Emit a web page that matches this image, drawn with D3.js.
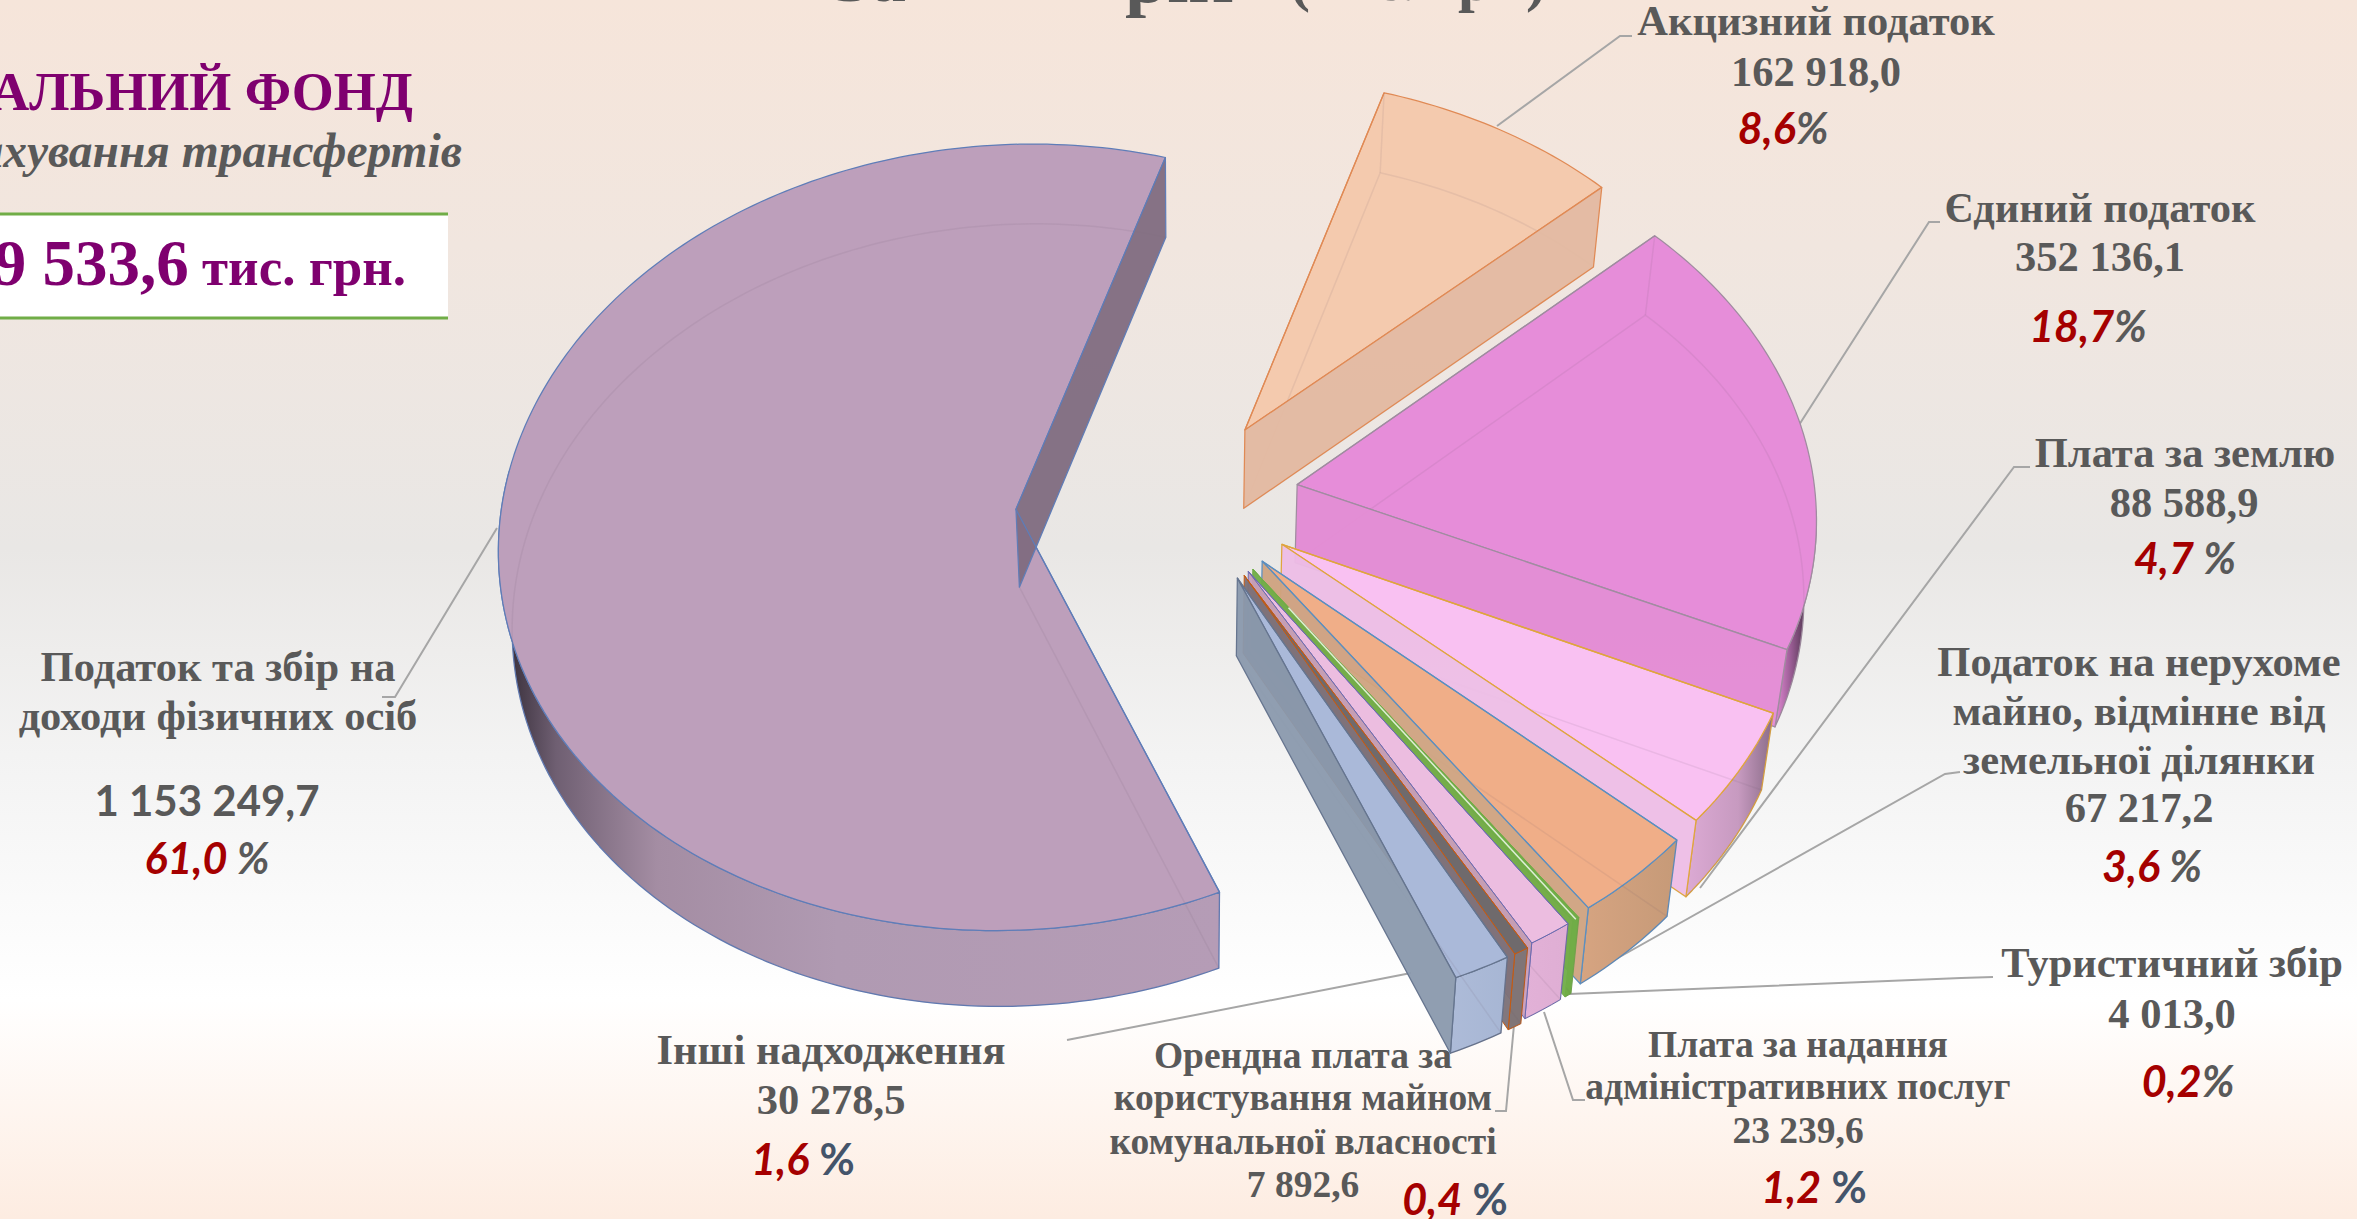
<!DOCTYPE html>
<html><head><meta charset="utf-8">
<script src="https://cdnjs.cloudflare.com/ajax/libs/d3/7.8.5/d3.min.js"></script>
<style>html,body{margin:0;padding:0;overflow:hidden}svg{display:block}</style></head>
<body><svg id="c" width="2357" height="1219"></svg>
<script>
// ---- data ----
const categories = ["Податок та збір на доходи фізичних осіб","Акцизний податок","Єдиний податок","Плата за землю",
  "Податок на нерухоме майно, відмінне від земельної ділянки","Туристичний збір","Плата за надання адміністративних послуг",
  "Орендна плата за користування майном комунальної власності","Інші надходження"];
const values = [1153249.7,162918.0,352136.1,88588.9,67217.2,4013.0,23239.6,7892.6,30278.5];
const percentLabels = ["61,0","8,6","18,7","4,7","3,6","0,2","1,2","0,4","1,6"];
const percentSigns = [" %","%","%"," %"," %","%"," %"," %"," %"];
const explode = [0.33,0.205,0.215,0.22,0.22,0.225,0.225,0.23,0.23];
const radiusAdjust = [0.988,1,0.997,0.985,0.985,0.985,0.985,0.985,0.985];
const topColors = ["#bd9fbb","#f4caae","#e68dd9","#f9c1f2","#f0ae88","#70ad47","#ecbde0","#6f6a6c","#aab9d9"];
const endWallColors = ["#7f6c80","#e3b8a0","#e389d4","#edbde6","#cfa27f","#70ad47","#c99db9","#7b7076","#8a99ad"];
const edgeColors = ["#5f7db8","#e08a55","#a08ca0","#dfa53e","#5b8fc0","#70ad47","#6a6ab0","#c55a11","#66758f"];
const wallStops = [
 [[0,"#2e2630"],[.08,"#6f5f72"],[.22,"#a48da3"],[.47,"#b09ab2"],[1,"#b59cb6"]],
 [[0,"#e3b8a0"],[1,"#e3b8a0"]],
 [[0,"#e58bd6"],[.35,"#a0609a"],[.7,"#5a3a58"],[1,"#33263a"]],
 [[0,"#dcaad4"],[.6,"#c79ac0"],[1,"#8a6c88"]],
 [[0,"#d6a481"],[1,"#c69a78"]],
 [[0,"#70ad47"],[1,"#70ad47"]],
 [[0,"#e2b1d7"],[1,"#dfaed4"]],
 [[0,"#807577"],[1,"#807577"]],
 [[0,"#adbbd8"],[1,"#a7b6d4"]]
];
const titleParts = [["За",834,1,70,"start"],["рік",1125,1.5,76,"start"],["(тис. грн)",1418,0,60,"middle"]];

// ---- projection ----
const W=2357,H=1219, ctr={x:1187,y:495}, rad={x:518,y:388}, persp=.107, depth=78, rimLift=14;
const svg=d3.select("#c");
const defs=svg.append("defs");
const bg=defs.append("linearGradient").attr("id","bg").attr("x1",0).attr("x2",0).attr("y1",0).attr("y2",1);
[[0,"#f6e5da"],[.2,"#f1e6df"],[.45,"#e9e7e5"],[.62,"#f3f3f3"],[.82,"#ffffff"],[1,"#fdece1"]].forEach(s=>bg.append("stop").attr("offset",s[0]).attr("stop-color",s[1]));
svg.append("rect").attr("width",W).attr("height",H).attr("fill","url(#bg)");

const rad0=d3.scaleLinear().domain([0,360]).range([0,2*Math.PI]);
function project(theta,r0,s,bottom){
  const r=r0*s.scale, th=theta+s.rot;
  const u=r*Math.sin(th)+s.e*Math.sin(s.mid), v=-r*Math.cos(th)*s.ys-s.e*Math.cos(s.mid);
  const p=1/(1-persp*v);
  let x=ctr.x+rad.x*u*p, y=ctr.y+rad.y*v*p-rimLift*r0+s.drop;
  if(bottom){x=ctr.x+(x-ctr.x)*.98; y=ctr.y+(y-ctr.y)*.995+depth;}
  return [x,y];
}
const line=d3.line();
const pieStart=rad0(18.2)-values[0]/d3.sum(values)*2*Math.PI+2*Math.PI;
const arcs=d3.pie().sort(null).startAngle(pieStart).endAngle(pieStart+2*Math.PI)(values);
const slices=arcs.map((a,i)=>{
  const wrap=i>0?2*Math.PI:0;
  return {i,a:a.startAngle-wrap,b:a.endAngle-wrap,mid:(a.startAngle+a.endAngle)/2-wrap,e:explode[i],
          scale:radiusAdjust[i],ys:i==0?1.012:1,rot:i==0?rad0(-1.5):0,drop:i==0?10.5:0};
});
function rim(s,a,b,bottom){
  const n=Math.max(2,Math.ceil((b-a)/0.02));
  return d3.range(n+1).map(j=>project(a+(b-a)*j/n,1,s,bottom));
}

// ---- leader lines (under the pie) ----
const leaders=[
 [[497,528],[395,697],[382,697]],
 [[1497,126],[1620,36],[1632,36]],
 [[1799,425],[1929,222],[1940,222]],
 [[1700,888],[2014,467],[2030,467]],
 [[1600,968],[1945,774],[1960,772]],
 [[1569,994],[1961,978],[1993,977]],
 [[1544,1012],[1573,1100],[1585,1100]],
 [[1514,1025],[1506,1111],[1495,1111]],
 [[1411,973],[1067,1040]]
];
svg.append("g").selectAll("path").data(leaders).join("path").attr("d",d=>line(d)).attr("fill","none").attr("stroke","#a6a6a6").attr("stroke-width",2);

// ---- slices ----
const g=svg.append("g").attr("stroke-linejoin","round");
slices.forEach(s=>{
  const i=s.i, sw=(i>=5&&i<=7)?1:1.25;
  const lg=defs.append("linearGradient").attr("id","w"+i).attr("x1",0).attr("x2",1).attr("y1",0).attr("y2",0);
  wallStops[i].forEach(st=>lg.append("stop").attr("offset",st[0]).attr("stop-color",st[1]));
  const apexT=project(0,0,s,false), apexB=project(0,0,s,true);
  // outer wall, only the part turned to the viewer
  const lo=Math.max(s.a,rad0(96)), hi=Math.min(s.b,rad0(275));
  if(hi>lo){
    const t=rim(s,lo,hi,false), b=rim(s,lo,hi,true).reverse();
    g.append("path").attr("d",line(t.concat(b))+"Z").attr("fill","url(#w"+i+")").attr("stroke",edgeColors[i]).attr("stroke-width",sw);
  }
  // top face
  const topPts=[apexT].concat(rim(s,s.a,s.b,false));
  g.append("path").attr("d",line(topPts)+"Z").attr("fill",topColors[i]).attr("stroke",edgeColors[i]).attr("stroke-width",sw);
  // far edges seen through the translucent faces
  const botPts=[apexB].concat(rim(s,s.a,s.b,true));
  g.append("path").attr("d",line(botPts)+"Z").attr("fill","none").attr("stroke","#6a5a70").attr("stroke-opacity",.1).attr("stroke-width",1.5);
  const aT=project(s.a,1,s,false), aB=project(s.a,1,s,true);
  g.append("path").attr("d",line([aT,aB])).attr("fill","none").attr("stroke","#6a5a70").attr("stroke-opacity",.1).attr("stroke-width",1.5);
  // clockwise radial wall
  const eT=project(s.b,1,s,false), eB=project(s.b,1,s,true);
  g.append("path").attr("d",line([apexT,eT,eB,apexB])+"Z").attr("fill",endWallColors[i]).attr("fill-opacity",.95).attr("stroke",edgeColors[i]).attr("stroke-width",sw);
  g.append("path").attr("d",line([apexT,aT])).attr("fill","none").attr("stroke",edgeColors[i]).attr("stroke-width",sw);
  if(i===5){ // pale centre of the tourist-tax sliver
    g.append("path").attr("d",line([project(s.mid,.12,s,false),project(s.mid,1,s,false)])).attr("fill","none").attr("stroke","#dfeed5").attr("stroke-width",1.5);
  }
});

// ---- text ----
const serif="'Liberation Serif','Times New Roman',serif", sans="Lato,'Open Sans',sans-serif";
const grey="#595959", purple="#7f006f", red="#a50000", navy="#44546a";
const T=svg.append("g");
function text(s,x,y,size,o={}){
  return T.append("text").attr("x",x).attr("y",y).attr("text-anchor",o.anchor||"middle")
   .attr("font-family",o.font||serif).attr("font-size",size).attr("font-weight",o.weight||"bold")
   .attr("font-style",o.style||"normal").attr("fill",o.fill||grey).text(s);
}
titleParts.forEach(t=>text(t[0],t[1],t[2],t[3],{anchor:t[4]}));
text("ЗАГАЛЬНИЙ ФОНД",413,110,54,{anchor:"end",fill:purple});
text("без урахування трансфертів",462,167,47.5,{anchor:"end",style:"italic"});
T.append("rect").attr("x",-5).attr("y",214).attr("width",453).attr("height",104).attr("fill","#fff");
T.append("path").attr("d",line([[0,214],[448,214]])).attr("stroke","#70ad47").attr("stroke-width",3);
T.append("path").attr("d",line([[0,318],[448,318]])).attr("stroke","#70ad47").attr("stroke-width",3);
const tt=text("",406,285,65,{anchor:"end",fill:purple});
tt.append("tspan").text("1 889 533,6");
tt.append("tspan").attr("font-size",53).text(" тис. грн.");

const fmt=d3.formatLocale({decimal:",",thousands:" ",grouping:[3]}).format(",.1f");
const nameLines=[["Податок та збір на","доходи фізичних осіб"],["Акцизний податок"],["Єдиний податок"],["Плата за землю"],
 ["Податок на нерухоме","майно, відмінне від","земельної ділянки"],["Туристичний збір"],["Плата за надання","адміністративних послуг"],
 ["Орендна плата за","користування майном","комунальної власності"],["Інші надходження"]];
const place=[
 {x:218,ys:[681,730],vx:207,vy:816,px:207,py:874,fs:42.5,sans:true},
 {x:1816,ys:[35],vx:1816,vy:86,px:1783,py:144,fs:42.5},
 {x:2100,ys:[222],vx:2100,vy:271,px:2088,py:342,fs:42.5},
 {x:2185,ys:[467],vx:2184,vy:517,px:2185,py:574,fs:42.5},
 {x:2139,ys:[676,725,774],vx:2139,vy:822,px:2152,py:882,fs:42.5},
 {x:2172,ys:[977],vx:2172,vy:1028,px:2188,py:1097,fs:42.5},
 {x:1798,ys:[1057,1099],vx:1798,vy:1143,px:1814,py:1203,fs:37.5},
 {x:1303,ys:[1068,1110,1154],vx:1303,vy:1197,px:1455,py:1215,fs:37.5},
 {x:831,ys:[1064],vx:831,vy:1114,px:803,py:1175,fs:42.5}
];
place.forEach((p,i)=>{
  nameLines[i].forEach((l,j)=>text(l,p.x,p.ys[j],p.fs));
  if(p.sans) text(fmt(values[i]),p.vx,p.vy,42,{font:sans});
  else text(fmt(values[i]),p.vx,p.vy,p.fs);
  const signColor=(i==6||i==7||i==8)?navy:grey;
  const t=text("",p.px,p.py,43,{font:sans,style:"italic"});
  t.append("tspan").attr("fill",red).text(percentLabels[i]);
  t.append("tspan").attr("fill",signColor).attr("font-style",i>=6?"normal":"italic").text(percentSigns[i]);
});
</script></body></html>
